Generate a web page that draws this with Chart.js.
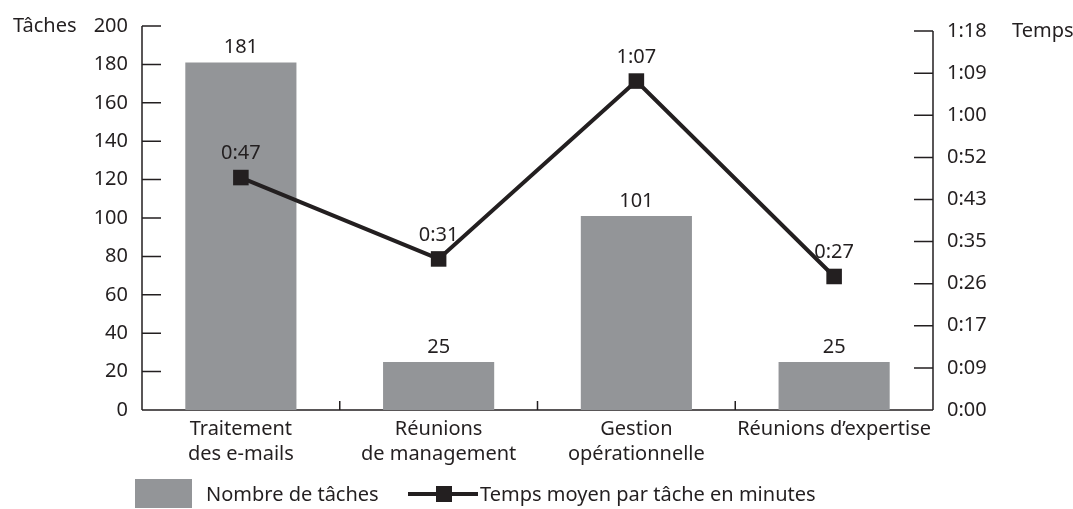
<!DOCTYPE html>
<html>
<head>
<meta charset="utf-8">
<script src="https://cdn.jsdelivr.net/npm/chart.js@4/dist/chart.umd.min.js"></script>
<style>
  html, body { margin: 0; padding: 0; background: #fff; }
  #wrap { position: relative; width: 1073px; height: 509px; }
  canvas { position: absolute; left: 0; top: 0; }
  .lg { position: absolute; font: 20px 'Noto Sans', sans-serif; color: #231f20; white-space: nowrap; line-height: 24px; }
  .sw { position: absolute; background: #939598; }
  .ln { position: absolute; background: #231f20; }
</style>
</head>
<body>
<div id="wrap">
  <canvas id="c" width="1073" height="509"></canvas>
  <div class="sw" style="left:135px; top:479px; width:57px; height:29px;"></div>
  <div class="lg" style="left:206px; top:482px;">Nombre de tâches</div>
  <div class="ln" style="left:408px; top:492px; width:70px; height:4px;"></div>
  <div class="ln" style="left:436px; top:486px; width:16px; height:16px;"></div>
  <div class="lg" style="left:480px; top:482px;">Temps moyen par tâche en minutes</div>
</div>
<script>
// ---- data ----
const categories = [
  ['Traitement', 'des e-mails'],
  ['Réunions', 'de management'],
  ['Gestion', 'opérationnelle'],
  'Réunions d’expertise'
];
const taskCounts = [181, 25, 101, 25];          // Nombre de tâches
const avgMinutes = [47.7, 31.0, 67.5, 27.4];    // Temps moyen par tâche (minutes, shown h:mm)
const leftTicks = [0, 20, 40, 60, 80, 100, 120, 140, 160, 180, 200];
const rightTickLabels = ['0:00', '0:09', '0:17', '0:26', '0:35', '0:43', '0:52', '1:00', '1:09', '1:18'];
const RIGHT_STEP = 8.64;   // minutes between right-axis ticks
const RIGHT_MAX = 78.8;    // top of the plot area on the right scale

const INK = '#231f20';
const BAR = '#939598';
const FONT = "'Noto Sans', sans-serif";

function fmt(min) {
  const m = Math.floor(min + 1e-9);
  return Math.floor(m / 60) + ':' + String(m % 60).padStart(2, '0');
}

const decor = {
  id: 'decor',
  beforeDatasetsDraw(chart) {
    const ctx = chart.ctx;
    const ca = chart.chartArea;
    const y = chart.scales.y, y2 = chart.scales.y2, x = chart.scales.x;
    ctx.save();
    ctx.strokeStyle = INK;
    ctx.lineWidth = 1.5;
    ctx.beginPath();
    // left axis
    const yTop = y.getPixelForValue(leftTicks[leftTicks.length - 1]);
    const y0 = y.getPixelForValue(0);
    ctx.moveTo(ca.left, yTop); ctx.lineTo(ca.left, y0);
    leftTicks.forEach(v => {
      const p = y.getPixelForValue(v);
      ctx.moveTo(ca.left, p); ctx.lineTo(ca.left + 19, p);
    });
    // right axis
    const r0 = y2.getPixelForValue(0);
    const rTop = y2.getPixelForValue((rightTickLabels.length - 1) * RIGHT_STEP);
    ctx.moveTo(ca.right, rTop); ctx.lineTo(ca.right, r0);
    rightTickLabels.forEach((_, i) => {
      const p = y2.getPixelForValue(i * RIGHT_STEP);
      ctx.moveTo(ca.right - 19, p); ctx.lineTo(ca.right, p);
    });
    // bottom axis
    ctx.moveTo(ca.left, y0); ctx.lineTo(ca.right, y0);
    for (let i = 0; i < categories.length - 1; i++) {
      const bx = (x.getPixelForValue(i) + x.getPixelForValue(i + 1)) / 2;
      ctx.moveTo(bx, y0); ctx.lineTo(bx, y0 - 9);
    }
    ctx.stroke();
    // axis titles
    ctx.fillStyle = INK;
    ctx.font = '20px ' + FONT;
    ctx.textBaseline = 'middle';
    ctx.textAlign = 'left';
    ctx.fillText('Tâches', 13, yTop);
    ctx.fillText('Temps', 1012, rTop);
    ctx.restore();
  },
  afterDatasetsDraw(chart) {
    const ctx = chart.ctx;
    ctx.save();
    ctx.fillStyle = INK;
    ctx.font = '20px ' + FONT;
    ctx.textAlign = 'center';
    ctx.textBaseline = 'middle';
    chart.getDatasetMeta(0).data.forEach((el, i) => {
      ctx.fillText(String(taskCounts[i]), el.x, el.y - 15);
    });
    chart.getDatasetMeta(1).data.forEach((el, i) => {
      ctx.fillText(fmt(avgMinutes[i]), el.x, el.y - 24);
    });
    ctx.restore();
  }
};

new Chart(document.getElementById('c'), {
  data: {
    labels: categories,
    datasets: [
      {
        type: 'bar',
        label: 'Nombre de tâches',
        data: taskCounts,
        backgroundColor: BAR,
        borderWidth: 0,
        barPercentage: 0.562,
        categoryPercentage: 1,
        yAxisID: 'y',
        order: 2
      },
      {
        type: 'line',
        label: 'Temps moyen par tâche en minutes',
        data: avgMinutes,
        borderColor: INK,
        borderWidth: 4,
        pointStyle: 'rect',
        pointRadius: 11,
        pointBackgroundColor: INK,
        pointBorderColor: INK,
        pointBorderWidth: 0,
        tension: 0,
        yAxisID: 'y2',
        order: 1
      }
    ]
  },
  options: {
    responsive: false,
    animation: false,
    events: [],
    layout: { padding: { left: 0, right: 0, top: 24, bottom: 0 } },
    plugins: { legend: { display: false }, tooltip: { enabled: false } },
    scales: {
      x: {
        type: 'category',
        offset: true,
        grid: { display: false, drawTicks: false },
        border: { display: false },
        ticks: { color: INK, font: { family: FONT, size: 20, lineHeight: 1.25 }, padding: 7, maxRotation: 0, autoSkip: false },
        afterFit(s) { s.height = 99; }
      },
      y: {
        position: 'left',
        min: 0, max: 200,
        grid: { display: false, drawTicks: false },
        border: { display: false },
        ticks: { stepSize: 20, color: INK, font: { family: FONT, size: 20 }, padding: 14 },
        afterBuildTicks(s) { s.ticks = leftTicks.map(v => ({ value: v })); },
        afterFit(s) { s.width = 142; }
      },
      y2: {
        position: 'right',
        min: 0, max: RIGHT_MAX,
        grid: { display: false, drawTicks: false },
        border: { display: false },
        ticks: {
          color: INK, font: { family: FONT, size: 20 }, padding: 14,
          callback: (v, i) => rightTickLabels[i]
        },
        afterBuildTicks(s) { s.ticks = rightTickLabels.map((_, i) => ({ value: i * RIGHT_STEP })); },
        afterFit(s) { s.width = 140; }
      }
    }
  },
  plugins: [decor]
});
</script>
</body>
</html>
